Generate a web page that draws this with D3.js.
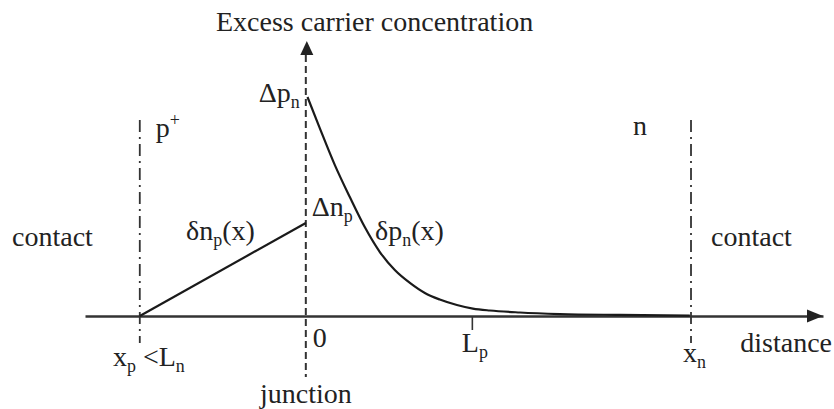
<!DOCTYPE html>
<html>
<head>
<meta charset="utf-8">
<script src="https://cdn.jsdelivr.net/npm/d3@7"></script>
<style>
  html, body { margin: 0; padding: 0; background: #fff; }
</style>
</head>
<body>
<svg id="chart" width="834" height="409"></svg>
<script>
// Positions along the distance axis, in units of the hole diffusion length Lp
const junctionX = 0;
const contactP = -1.0;     // x_p, edge of the short p+ side
const contactN = 2.32;     // x_n, ohmic contact on the n side
const diffLenP = 1.0;      // L_p
const axisStart = -1.33;
const axisEnd = 3.115;

// Excess concentrations at the depletion edges (normalised to Δp_n)
const deltaPn = 1.0;
const deltaNp = 0.425;
const yArrowTop = 1.256;
const junctionBottom = -0.279;

// δn_p(x): linear profile on the short p+ side
const electronX = [contactP, junctionX];
const electronY = [0, deltaNp];

// δp_n(x): decaying hole profile on the n side
const holeX = [0.01, 0.084, 0.175, 0.265, 0.355, 0.446, 0.536, 0.627, 0.717, 0.807, 0.910, 1.006, 1.108, 1.289, 1.530, 1.892, 2.313];
const holeY = [1.000, 0.858, 0.689, 0.543, 0.406, 0.292, 0.210, 0.151, 0.105, 0.075, 0.050, 0.034, 0.025, 0.016, 0.009, 0.005, 0.002];

const FONT = "'Liberation Serif', monospace";

const svg = d3.select("#chart");
const x = d3.scaleLinear().domain([axisStart, axisEnd]).range([85, 823]);
const y = d3.scaleLinear().domain([0, 1]).range([316, 97]);

// helper for labels with sub/superscripts
function label(px, py, parts, size = 28, anchor = "start") {
  const t = svg.append("text").attr("x", px).attr("y", py)
    .style("font-family", FONT).attr("fill", "#222")
    .style("font-size", size + "px").attr("text-anchor", anchor);
  if (parts.length === 1 && !parts[0][1]) {
    t.text(parts[0][0]);
    return t;
  }
  let shift = 0;
  parts.forEach(([str, kind]) => {
    let target = 0;
    if (kind === "sub") target = 6;
    if (kind === "sup") target = -11;
    const ts = t.append("tspan").text(str).attr("dy", target - shift)
      .style("font-family", FONT)
      .style("font-size", (kind ? size * 0.64 : size) + "px");
    shift = target;
  });
  return t;
}

// distance axis with the L_p tick
const xAxis = d3.axisBottom(x).tickValues([diffLenP]).tickSize(14).tickSizeOuter(0).tickFormat(() => "");
const ax = svg.append("g").attr("transform", `translate(0,${y(0)})`).call(xAxis);
ax.select(".domain").attr("stroke", "#333").attr("stroke-width", 2.6);
ax.selectAll(".tick line").attr("stroke", "#333").attr("stroke-width", 1.6);
svg.append("path")
  .attr("d", `M${x(axisEnd)},${y(0)} L${x(axisEnd) - 16},${y(0) - 6.5} L${x(axisEnd) - 16},${y(0) + 6.5} Z`)
  .attr("fill", "#222");

// junction line doubling as the concentration axis
svg.append("line")
  .attr("x1", x(junctionX)).attr("x2", x(junctionX))
  .attr("y1", y(yArrowTop) + 14).attr("y2", y(junctionBottom))
  .attr("stroke", "#333").attr("stroke-width", 2).attr("stroke-dasharray", "7,4");
svg.append("path")
  .attr("d", `M${x(junctionX) + 1},${y(yArrowTop)} L${x(junctionX) - 5.5},${y(yArrowTop) + 14} L${x(junctionX) + 7.5},${y(yArrowTop) + 14} Z`)
  .attr("fill", "#222");

// contact boundaries (dash-dot)
[contactP, contactN].forEach(c => {
  svg.append("line")
    .attr("x1", x(c)).attr("x2", x(c))
    .attr("y1", 120).attr("y2", 343)
    .attr("stroke", "#333").attr("stroke-width", 1.8)
    .attr("stroke-dasharray", "12,5,2,5");
});

// carrier profiles
const line = d3.line().x(d => x(d[0])).y(d => y(d[1]));
svg.append("path")
  .datum(electronX.map((v, i) => [v, electronY[i]]))
  .attr("d", line)
  .attr("fill", "none").attr("stroke", "#1a1a1a").attr("stroke-width", 2.2);
svg.append("path")
  .datum(holeX.map((v, i) => [v, holeY[i]]))
  .attr("d", line.curve(d3.curveMonotoneX))
  .attr("fill", "none").attr("stroke", "#1a1a1a").attr("stroke-width", 2.2);

// titles and region labels
label(216, 31, [["Excess carrier concentration"]]);
label(x(junctionX) - 6, 102, [["Δp"], ["n", "sub"]], 28, "end");
label(x(contactP) + 16, 137, [["p"], ["+", "sup"]]);
label(633, 135, [["n"]]);
label(12, 246, [["contact"]]);
label(711, 246, [["contact"]]);
label(186, 240, [["δn"], ["p", "sub"], ["(x)"]]);
label(x(junctionX) + 6, 216, [["Δn"], ["p", "sub"]]);
label(375, 240, [["δp"], ["n", "sub"], ["(x)"]]);

// axis labels
label(113, 366, [["x"], ["p", "sub"], ["\u00A0<L"], ["n", "sub"]]);
label(x(junctionX) + 7, 347, [["0"]]);
label(x(diffLenP) - 10, 352, [["L"], ["p", "sub"]]);
label(x(contactN) - 8, 362, [["x"], ["n", "sub"]]);
label(832, 352, [["distance"]], 28, "end");
label(260, 403, [["junction"]]);
</script>
</body>
</html>
